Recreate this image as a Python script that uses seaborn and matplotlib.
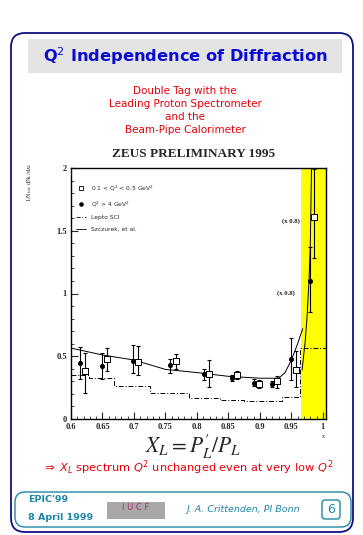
import numpy as np
import pandas as pd
import seaborn as sns
import matplotlib
matplotlib.use("Agg")
import matplotlib.pyplot as plt
from matplotlib.patches import FancyBboxPatch, Rectangle
from matplotlib.lines import Line2D

# data
xl_low = [0.622, 0.657, 0.706, 0.766, 0.819, 0.864, 0.899, 0.927, 0.958, 0.986]
val_low = [0.384, 0.477, 0.453, 0.464, 0.355, 0.349, 0.277, 0.299, 0.392, 1.61]
err_low_dn = [0.174, 0.091, 0.103, 0.064, 0.101, 0.032, 0.027, 0.049, 0.138, 0.33]
err_low_up = [0.141, 0.088, 0.127, 0.056, 0.117, 0.037, 0.037, 0.041, 0.148, 0.38]

xl_high = [0.614, 0.649, 0.698, 0.757, 0.811, 0.855, 0.890, 0.920, 0.949, 0.979]
val_high = [0.445, 0.424, 0.464, 0.427, 0.357, 0.323, 0.288, 0.277, 0.477, 1.10]
err_high_dn = [0.125, 0.104, 0.094, 0.057, 0.045, 0.023, 0.023, 0.025, 0.167, 0.25]
err_high_up = [0.131, 0.101, 0.126, 0.053, 0.040, 0.027, 0.027, 0.025, 0.168, 0.27]

lepto_edges = [0.6, 0.629, 0.668, 0.726, 0.787, 0.837, 0.875, 0.935, 0.963, 1.005]
lepto_vals = [0.352, 0.325, 0.259, 0.205, 0.171, 0.152, 0.145, 0.179, 0.565]

szcz_x = [0.6, 0.65, 0.7, 0.75, 0.8, 0.85, 0.9, 0.93, 0.94, 0.95, 0.96, 0.968]
szcz_y = [0.565, 0.51, 0.47, 0.395, 0.37, 0.34, 0.325, 0.325, 0.37, 0.47, 0.6, 0.72]
szcz2_x = [0.967, 0.972, 0.975, 0.978, 0.980, 0.982]
szcz2_y = [0.39, 0.62, 0.82, 1.10, 1.37, 2.0]

xticks = [0.6, 0.65, 0.7, 0.75, 0.8, 0.85, 0.9, 0.95, 1.0]
xticklabels = ["0.6", "0.65", "0.7", "0.75", "0.8", "0.85", "0.9", "0.95", "1"]
yticks = [0, 0.5, 1, 1.5, 2]
yticklabels = ["0", "0.5", "1", "1.5", "2"]

sns.set_style("ticks")
plt.rcParams["font.family"] = ["DejaVu Sans"]

blue = "#0a0ad0"
red = "#e8000a"
teal = "#1f86a8"

fig = plt.figure(figsize=(3.63, 5.35), dpi=100)

# slide background in pixel coordinates
bg = fig.add_axes([0, 0, 1, 1])
bg.set_xlim(0, 363)
bg.set_ylim(535, 0)
bg.axis("off")
bg.add_patch(FancyBboxPatch((11, 33), 342, 499, boxstyle="round,pad=0,rounding_size=14",
                            ec="#101080", fc="white", lw=1.3))
bg.add_patch(Rectangle((28, 39), 314, 34, fc="#e4e4e4", ec="none"))
bg.text(185, 56.5, r"Q$^2$ Independence of Diffraction", color=blue, fontsize=11.7,
        fontweight="bold", ha="center", va="center")
for i, line in enumerate(["Double Tag with the", "Leading Proton Spectrometer",
                          "and the", "Beam-Pipe Calorimeter"]):
    bg.text(185, 91 + i * 13, line, color=red, fontsize=7.5, ha="center", va="center")

bg.text(194, 154, "ZEUS PRELIMINARY 1995", fontsize=9.5, fontweight="bold",
        family="Liberation Serif", ha="center", va="center")
bg.text(30, 182, r"1/N$_{tot}$ dN$_{L}$/dx$_L$", fontsize=4.5, rotation=90,
        family="Liberation Serif", ha="center", va="center")
bg.text(193, 453, r"$X_L = P^{\prime}_L/P_L$", fontsize=15.5, ha="center", va="baseline",
        math_fontfamily="stix")
bg.text(323, 437, "x", fontsize=4.5, family="Liberation Serif", ha="center", va="center")
bg.text(188, 468, r"$\Rightarrow$ $X_L$ spectrum $Q^2$ unchanged even at very low $Q^2$",
        color=red, fontsize=8.2, ha="center", va="center", math_fontfamily="dejavusans")

# footer
bg.add_patch(FancyBboxPatch((15, 492), 336, 35, boxstyle="round,pad=0,rounding_size=10",
                            ec=teal, fc="white", lw=1.0))
bg.text(28, 500, "EPIC'99", color=teal, fontsize=6.8, fontweight="bold", va="center")
bg.text(28, 517, "8 April 1999", color=teal, fontsize=6.8, fontweight="bold", va="center")
bg.add_patch(Rectangle((107, 502), 58, 17, fc="#a8a8a8", ec="none"))
bg.text(136, 508, "I U C F", color="#b03070", fontsize=6, ha="center", va="center")
bg.text(243, 510, "J. A. Crittenden, PI Bonn", color=teal, fontsize=6.8, style="italic",
        ha="center", va="center")
bg.add_patch(FancyBboxPatch((322, 500), 18, 19, boxstyle="round,pad=0,rounding_size=3",
                            ec=teal, fc="white", lw=1.0))
bg.text(331, 509.5, "6", color=teal, fontsize=9, ha="center", va="center")

# data axes
ax = fig.add_axes([71 / 363, 1 - 419 / 535, 255 / 363, 251 / 535])
ax.set_facecolor("white")
ax.axvspan(0.965, 1.005, color="#ffff00", lw=0, zorder=0)

steps = pd.DataFrame({"x": lepto_edges, "y": lepto_vals + [lepto_vals[-1]]})
sns.lineplot(data=steps, x="x", y="y", ax=ax, color="black", lw=0.7,
             drawstyle="steps-post", linestyle=(0, (5, 2, 1, 2)), zorder=2)
sns.lineplot(x=szcz_x, y=szcz_y, ax=ax, color="black", lw=0.7, zorder=2)
sns.lineplot(x=szcz2_x, y=szcz2_y, ax=ax, color="black", lw=0.7, zorder=2)

ax.errorbar(xl_high, val_high, yerr=[err_high_dn, err_high_up], fmt="none",
            ecolor="black", elinewidth=0.8, capsize=1.5, capthick=0.8, zorder=3)
ax.errorbar(xl_low, val_low, yerr=[err_low_dn, err_low_up], fmt="none",
            ecolor="black", elinewidth=0.8, capsize=1.5, capthick=0.8, zorder=3)
sns.scatterplot(x=xl_high, y=val_high, ax=ax, marker="o", s=10, color="black",
                edgecolor="black", linewidth=0.5, zorder=4)
sns.scatterplot(x=xl_low, y=val_low, ax=ax, marker="s", s=22, color="white",
                edgecolor="black", linewidth=0.7, zorder=4)

ax.text(0.963, 1.58, "(x 0.8)", fontsize=4.8, family="Liberation Serif",
        ha="right", va="center", fontweight="bold")
ax.text(0.955, 1.0, "(x 0.8)", fontsize=4.8, family="Liberation Serif",
        ha="right", va="center", fontweight="bold")

handles = [Line2D([], [], marker="s", ls="none", mfc="white", mec="black", ms=3, mew=0.6),
           Line2D([], [], marker="o", ls="none", color="black", ms=2.3),
           Line2D([], [], color="black", lw=0.6, ls=(0, (5, 2, 1, 2))),
           Line2D([], [], color="black", lw=0.6)]
labels = [r"0.1 < Q$^2$ < 0.5 GeV$^2$", r"Q$^2$ > 4 GeV$^2$", "Lepto SCI", "Szczurek, et al."]
ax.legend(handles, labels, loc="upper left", bbox_to_anchor=(0.0, 0.96), frameon=False,
          fontsize=4.3, handlelength=1.6, handletextpad=0.8, labelspacing=1.1)

ax.set_xlim(0.6, 1.005)
ax.set_ylim(0, 2)
ax.set_xticks(xticks)
ax.set_xticklabels(xticklabels)
ax.set_yticks(yticks)
ax.set_yticklabels(yticklabels)
ax.set_xticks(np.arange(0.6, 1.0, 0.01), minor=True)
ax.set_yticks(np.arange(0, 2.0, 0.1), minor=True)
ax.tick_params(direction="in", labelsize=6, width=0.8, length=5, top=False, right=False)
ax.tick_params(axis="x", pad=3)
ax.tick_params(axis="y", pad=3)
ax.tick_params(which="minor", direction="in", length=2.5, width=0.6, top=False, right=False)
for lab in ax.get_xticklabels() + ax.get_yticklabels():
    lab.set_family("Liberation Serif")
    lab.set_fontweight("bold")
for sp in ax.spines.values():
    sp.set_linewidth(1.0)
    sp.set_color("black")
ax.set_xlabel("")
ax.set_ylabel("")

fig.savefig("out.png", dpi=100)
